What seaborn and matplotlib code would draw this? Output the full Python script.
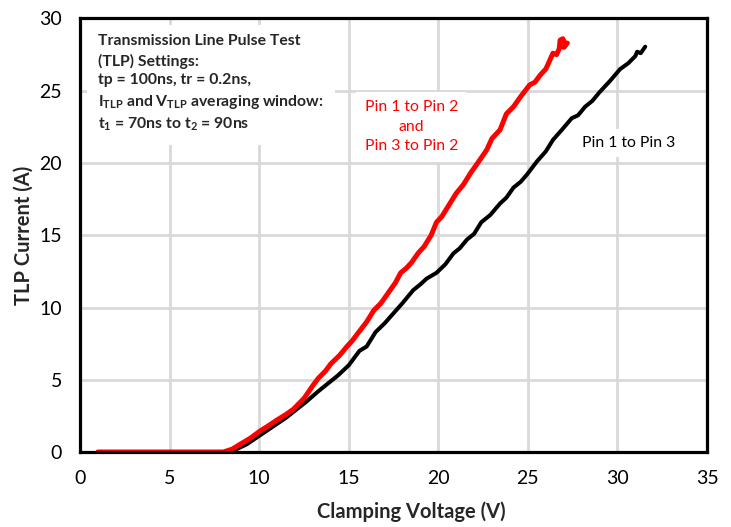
import matplotlib
matplotlib.use("Agg")
import matplotlib.pyplot as plt
import seaborn as sns

# Pin 1 to Pin 2 / Pin 3 to Pin 2 (red)
red_v = [1.0, 8.0, 8.5, 8.93, 9.5, 10.05, 10.5, 10.98, 11.5, 11.9, 12.5, 13.0, 13.3,
         13.7, 14.0, 14.5, 14.9, 15.2, 15.5, 16.0, 16.4, 16.8, 17.2, 17.6, 17.9, 18.2,
         18.5, 18.9, 19.2, 19.6, 19.9, 20.2, 20.5, 21.0, 21.4, 21.8, 22.2, 22.7, 23.0,
         23.45, 23.8, 24.2, 24.6, 25.1, 25.4, 25.7, 26.0, 26.15, 26.4, 26.6, 26.75,
         26.8, 26.95, 27.1, 27.0, 27.2]
red_i = [0.0, 0.0, 0.2, 0.53, 0.95, 1.45, 1.8, 2.2, 2.6, 2.95, 3.7, 4.6, 5.1,
         5.6, 6.1, 6.7, 7.3, 7.7, 8.2, 9.0, 9.8, 10.3, 11.0, 11.7, 12.4, 12.7,
         13.1, 13.8, 14.2, 15.0, 15.9, 16.3, 16.9, 17.9, 18.5, 19.3, 20.0, 20.9, 21.7,
         22.3, 23.4, 23.9, 24.6, 25.4, 25.6, 26.1, 26.5, 26.9, 27.6, 27.5, 27.9,
         28.5, 28.6, 28.2, 28.0, 28.3]

# Pin 1 to Pin 3 (black)
blk_v = [1.0, 8.4, 9.3, 10.4, 11.5, 12.65, 13.3, 13.8, 14.4, 15.0, 15.6, 16.0, 16.5,
         17.0, 17.5, 18.0, 18.6, 19.0, 19.35, 19.9, 20.4, 20.85, 21.2, 21.6, 22.0,
         22.4, 22.9, 23.45, 23.8, 24.2, 24.6, 24.95, 25.5, 26.0, 26.4, 26.9, 27.45,
         27.8, 28.2, 28.6, 29.0, 29.6, 30.15, 30.6, 31.0, 31.1, 31.3, 31.55]
blk_i = [0.0, 0.0, 0.53, 1.45, 2.37, 3.5, 4.2, 4.7, 5.3, 6.0, 7.0, 7.3, 8.3,
         8.9, 9.6, 10.3, 11.2, 11.6, 12.0, 12.4, 13.0, 13.75, 14.1, 14.7, 15.1,
         15.9, 16.4, 17.2, 17.6, 18.3, 18.7, 19.2, 20.1, 20.8, 21.6, 22.3, 23.1,
         23.3, 23.9, 24.3, 24.9, 25.7, 26.5, 26.9, 27.4, 27.7, 27.6, 28.05]

x_ticks = [0, 5, 10, 15, 20, 25, 30, 35]
y_ticks = [0, 5, 10, 15, 20, 25, 30]

sns.set_style("white")
plt.rcParams['font.family'] = ['Lato', 'DejaVu Sans']
plt.rcParams['mathtext.fontset'] = 'custom'
plt.rcParams['mathtext.bf'] = 'Lato:bold'
plt.rcParams['mathtext.rm'] = 'Lato:bold'
plt.rcParams['mathtext.default'] = 'rm'

fig = plt.figure(figsize=(7.31, 5.27), dpi=100)
ax = fig.add_axes([0.1094, 0.1423, 0.8578, 0.8226])

sns.lineplot(x=red_v, y=red_i, sort=False, estimator=None, color='#ff0000',
             linewidth=3.6, ax=ax, zorder=4)
sns.lineplot(x=blk_v, y=blk_i, sort=False, estimator=None, color='black',
             linewidth=2.9, ax=ax, zorder=3)

ax.set_xlim(0, 35)
ax.set_ylim(0, 30)
ax.set_xticks(x_ticks)
ax.set_yticks(y_ticks)
ax.grid(True, color='#d9d9d9', linewidth=2.0, zorder=0)
ax.set_axisbelow(True)
ax.tick_params(length=0, labelsize=14, colors='black')
ax.tick_params(axis='x', pad=13)
ax.tick_params(axis='y', pad=13)
for s in ax.spines.values():
    s.set_color('black')
    s.set_linewidth(2.3)
    s.set_zorder(6)

ax.set_xlabel('Clamping Voltage (V)', fontsize=14.5, fontweight='bold')
ax.xaxis.set_label_coords(0.528, -0.115)
ax.set_ylabel('TLP Current (A)', fontsize=14.5, fontweight='bold', labelpad=4)

settings = ("Transmission Line Pulse Test\n(TLP) Settings:\ntp = 100ns, tr = 0.2ns,\n"
            r"I$_{TLP}$ and V$_{TLP}$ averaging window:" "\n"
            r"t$_{1}$ = 70ns to t$_{2}$ = 90ns")
ax.text(1.0, 28.9, settings, fontsize=11.3, fontweight='bold', va='top', ha='left',
        linespacing=1.42, zorder=5,
        bbox=dict(facecolor='white', edgecolor='none', pad=8))

ax.text(18.5, 22.5, "Pin 1 to Pin 2\nand\nPin 3 to Pin 2", color='#ff0000',
        fontsize=11.3, ha='center', va='center', linespacing=1.5, zorder=5,
        bbox=dict(facecolor='white', edgecolor='none', pad=6))
ax.text(28.0, 21.4, "Pin 1 to Pin 3", color='black', fontsize=11.3,
        ha='left', va='center', zorder=5,
        bbox=dict(facecolor='white', edgecolor='none', pad=5))

fig.savefig('out.png', dpi=100)
